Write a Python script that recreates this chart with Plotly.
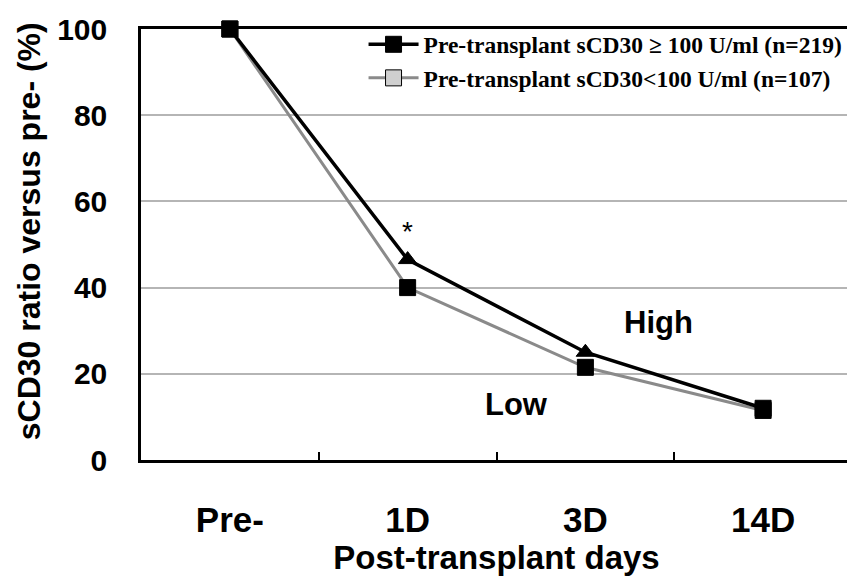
import plotly.graph_objects as go

days = ["Pre-", "1D", "3D", "14D"]
high_values = [100, 46.5, 25, 12]
low_values = [100, 40, 21.5, 11.5]
high_name = "Pre-transplant sCD30 \u2265 100 U/ml (n=219)"
low_name = "Pre-transplant sCD30<100 U/ml (n=107)"
y_ticks = [0, 20, 40, 60, 80, 100]

sans = "Liberation Sans, Arial, sans-serif"
serif = "Liberation Serif, Times New Roman, serif"

fig = go.Figure()

fig.add_trace(go.Scatter(
    x=days, y=low_values, name=low_name, mode="lines+markers",
    line=dict(color="#8a8a8a", width=3),
    marker=dict(symbol="square", size=16,
                color=["#cfcfcf", "black", "black", "black"],
                line=dict(color="black", width=1)),
    cliponaxis=False,
))
fig.add_trace(go.Scatter(
    x=days, y=high_values, name=high_name, mode="lines+markers",
    line=dict(color="black", width=3.5),
    marker=dict(symbol=["square", "triangle-up", "triangle-up", "square"], size=16,
                color="black", line=dict(color="black", width=1)),
    cliponaxis=False,
))

fig.add_annotation(x="1D", y=53, text="*", showarrow=False,
                   font=dict(family=sans, size=28, color="black"))
fig.add_annotation(x=2.41, y=32, text="<b>High</b>", showarrow=False,
                   font=dict(family=sans, size=31, color="black"))
fig.add_annotation(x=1.61, y=12.8, text="<b>Low</b>", showarrow=False,
                   font=dict(family=sans, size=31, color="black"))
# y-axis title (placed as annotation to match the reference's vertical offset)
fig.add_annotation(xref="paper", yref="paper", x=-0.158, y=0.53, xanchor="center", yanchor="middle",
                   text="<b>sCD30 ratio versus pre- (%)</b>", textangle=-90, showarrow=False,
                   borderpad=0,
                   font=dict(family=sans, size=32, color="black"))

fig.update_layout(
    width=847, height=577,
    margin=dict(l=133, r=3, t=21, b=125, autoexpand=False),
    paper_bgcolor="white", plot_bgcolor="white",
    showlegend=True,
    legend=dict(x=0.313, y=1.015, xanchor="left", yanchor="top",
                traceorder="reversed", bgcolor="rgba(0,0,0,0)",
                font=dict(family=serif, size=23.5, color="black", weight="bold"),
                itemwidth=50, tracegroupgap=0),
)

fig.update_xaxes(
    type="category", range=[-0.5, 3.5], automargin=False,
    showline=True, linecolor="black", linewidth=2.5, mirror=True,
    ticks="inside", tickson="boundaries", ticklen=8, tickwidth=2, tickcolor="black",
    showgrid=False,
    tickfont=dict(family=sans, size=35, color="black", weight="bold"),
    ticklabelstandoff=27,
    title=dict(text="<b>Post-transplant days</b>", standoff=6,
               font=dict(family=sans, size=33, color="black")),
)
fig.update_yaxes(
    range=[0, 100], tickvals=y_ticks, automargin=False,
    showline=True, linecolor="black", linewidth=2.5, mirror=True,
    ticks="", showgrid=True, gridcolor="#b5b5b5", gridwidth=1.5, zeroline=False,
    tickfont=dict(family=sans, size=30, color="black", weight="bold"),
    ticklabelstandoff=25,
)

fig.write_html("out.html")
